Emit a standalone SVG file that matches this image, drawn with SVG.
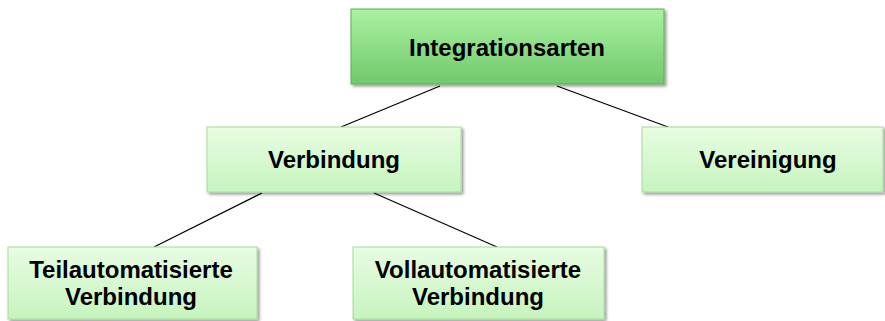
<svg xmlns="http://www.w3.org/2000/svg" width="885" height="321" viewBox="0 0 885 321">
<defs>
<linearGradient id="gTop" x1="0" y1="0" x2="0" y2="1">
<stop offset="0" stop-color="#aaf2a2"/>
<stop offset="1" stop-color="#72c86c"/>
</linearGradient>
<linearGradient id="gChild" x1="0" y1="0" x2="0" y2="1">
<stop offset="0" stop-color="#e8fce2"/>
<stop offset="1" stop-color="#c6f4be"/>
</linearGradient>
<filter id="sh" x="-5%" y="-10%" width="115%" height="130%">
<feGaussianBlur in="SourceAlpha" stdDeviation="1.5"/>
<feOffset dx="2" dy="2" result="b"/>
<feComponentTransfer><feFuncA type="linear" slope="0.4"/></feComponentTransfer>
<feMerge><feMergeNode/><feMergeNode in="SourceGraphic"/></feMerge>
</filter>
</defs>
<style>
.top{fill:url(#gTop);stroke:#5fae58;stroke-width:1}
.child{fill:url(#gChild);stroke:#a6dc9c;stroke-width:1}
.t{font-family:"Liberation Sans",Arial,sans-serif;font-weight:bold;font-size:24px;fill:#000;text-anchor:middle}
.c{stroke:#000;stroke-width:1.2;fill:none}
</style>
<g id="connectors">
<line class="c" x1="440" y1="86" x2="341" y2="127"/>
<line class="c" x1="557" y1="86" x2="668" y2="127"/>
<line class="c" x1="262" y1="193" x2="154" y2="247"/>
<line class="c" x1="374" y1="193" x2="497" y2="247"/>
</g>
<g id="integrationsarten">
<rect class="top" x="351" y="9" width="313" height="75" filter="url(#sh)"/>
<text class="t" x="507" y="56">Integrationsarten</text>
</g>
<g id="verbindung">
<rect class="child" x="207" y="127" width="254" height="65" filter="url(#sh)"/>
<text class="t" x="334" y="168">Verbindung</text>
</g>
<g id="vereinigung">
<rect class="child" x="642" y="127" width="241" height="65" filter="url(#sh)"/>
<text class="t" x="768" y="168">Vereinigung</text>
</g>
<g id="teilautomatisierte">
<rect class="child" x="8" y="247" width="249" height="72" filter="url(#sh)"/>
<text class="t" x="131" y="278">Teilautomatisierte</text>
<text class="t" x="131" y="305">Verbindung</text>
</g>
<g id="vollautomatisierte">
<rect class="child" x="353" y="247" width="251" height="72" filter="url(#sh)"/>
<text class="t" x="478" y="278">Vollautomatisierte</text>
<text class="t" x="478" y="305">Verbindung</text>
</g>
</svg>
